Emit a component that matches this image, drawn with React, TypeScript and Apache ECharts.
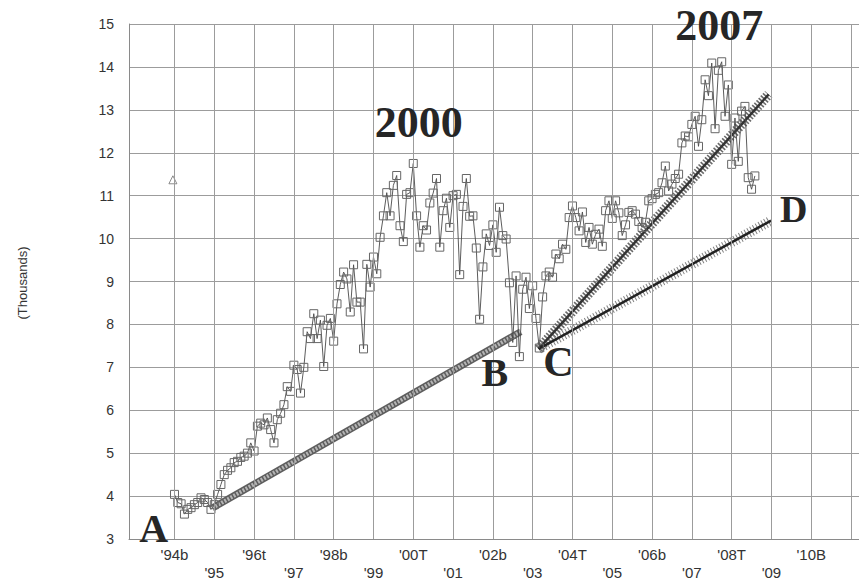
import React, { useEffect, useRef } from "react";
import * as echarts from "echarts";

// ---- Data ----
const startYear = 1994;
const v1994 = [4.04, 3.85, 3.82, 3.58, 3.69, 3.73, 3.8, 3.85, 3.96, 3.92, 3.85, 3.69];
const v1995 = [3.8, 4.04, 4.27, 4.5, 4.6, 4.66, 4.78, 4.81, 4.9, 4.93, 5.0, 5.24];
const v1996 = [5.05, 5.63, 5.7, 5.66, 5.82, 5.55, 5.24, 5.78, 5.93, 6.13, 6.55, 6.44];
const v1997 = [7.05, 6.95, 6.4, 7.0, 7.83, 7.67, 8.25, 7.67, 8.1, 7.02, 7.98, 8.14];
const v1998 = [7.61, 8.48, 8.93, 9.22, 9.06, 8.29, 9.39, 8.52, 8.52, 7.43, 9.4, 8.87];
const v1999 = [9.57, 9.18, 10.03, 10.53, 11.07, 10.53, 11.24, 11.47, 10.3, 9.93, 11.03, 11.07];
const v2000 = [11.75, 10.53, 9.8, 10.3, 10.2, 10.83, 11.06, 11.4, 9.8, 10.65, 10.94, 10.26];
const v2001 = [11.0, 11.03, 9.16, 10.75, 11.4, 10.52, 10.53, 9.78, 8.12, 9.34, 10.11, 9.84];
const v2002 = [10.32, 9.68, 10.73, 10.07, 9.99, 8.97, 7.58, 9.13, 7.25, 8.82, 9.1, 8.37];
const v2003 = [8.9, 8.14, 7.45, 8.64, 9.13, 9.22, 9.1, 9.64, 9.53, 9.87, 9.75, 10.49];
const v2004 = [10.76, 10.49, 10.18, 10.62, 9.91, 10.26, 9.87, 10.1, 10.22, 9.82, 10.65, 10.88];
const v2005 = [10.47, 10.88, 10.6, 10.07, 10.32, 10.61, 10.65, 10.57, 10.4, 10.26, 10.38, 10.88];
const v2006 = [10.93, 11.03, 11.07, 11.3, 11.69, 11.11, 11.27, 11.4, 11.5, 12.23, 12.39, 12.37];
const v2007 = [12.66, 12.85, 12.15, 12.77, 13.7, 13.33, 14.09, 12.56, 13.92, 14.12, 12.85, 13.58];
const v2008 = [11.73, 12.81, 11.8, 12.97, 13.08, 11.42, 11.15, 11.46];

const yearly = [v1994, v1995, v1996, v1997, v1998, v1999, v2000, v2001, v2002, v2003, v2004, v2005, v2006, v2007, v2008];

const strayPoint = [[1993.96, 11.37]];

const trendAB = [[1994.95, 3.72], [2002.7, 7.83]];
const trendCUp = [[2003.15, 7.43], [2008.93, 13.36]];
const trendCD = [[2003.15, 7.43], [2008.99, 10.42]];

const tickYears = [1994, 1995, 1996, 1997, 1998, 1999, 2000, 2001, 2002, 2003, 2004, 2005, 2006, 2007, 2008, 2009, 2010];
const tickLabels = ["'94b", "'95", "'96t", "'97", "'98b", "'99", "'00T", "'01", "'02b", "'03", "'04T", "'05", "'06b", "'07", "'08T", "'09", "'10B"];
const gridYears = [1994, 1995, 1996, 1997, 1998, 1999, 2000, 2001, 2002, 2003, 2004, 2005, 2006, 2007, 2008, 2009, 2010, 2011];

const annotations = [
  { name: "2000", coord: [2000.14, 12.7], size: 44 },
  { name: "2007", coord: [2007.69, 14.96], size: 44 },
  { name: "A", coord: [1993.48, 3.24], size: 40 },
  { name: "B", coord: [2002.05, 6.87], size: 40 },
  { name: "C", coord: [2003.65, 7.12], size: 42 },
  { name: "D", coord: [2009.56, 10.7], size: 38 },
];

export default function App() {
  const ref = useRef<HTMLDivElement>(null);
  useEffect(() => {
    if (!ref.current) return;
    const chart = echarts.init(ref.current, undefined, { renderer: "svg" });
    const mainData: number[][] = [];
    yearly.forEach((arr, yi) => {
      arr.forEach((v, m) => {
        mainData.push([startYear + yi + m / 12, v]);
      });
    });
    const labelMap: Record<number, string> = {};
    tickYears.forEach((y, i) => (labelMap[y] = tickLabels[i]));

    const trend = (data: number[][], z: number, outer: any, inner: any) => [
      { type: "line", data, symbol: "none", showSymbol: false, z, lineStyle: outer, silent: true },
      { type: "line", data, symbol: "none", showSymbol: false, z: z + 0.1, lineStyle: inner, silent: true },
    ];

    chart.setOption({
      animation: false,
      backgroundColor: "#ffffff",
      grid: { left: 129, top: 24, right: 0, bottom: 39.5, containLabel: false },
      xAxis: {
        type: "value",
        min: 1992.857,
        max: 2011.2,
        axisLine: { show: true, lineStyle: { color: "#8a8a8a", width: 1 } },
        axisTick: { show: false },
        splitLine: { show: false },
        axisLabel: {
          customValues: tickYears,
          margin: 6,
          fontSize: 15,
          lineHeight: 18,
          color: "#333",
          fontFamily: "Liberation Sans, Arial, sans-serif",
          formatter: (val: number) => {
            const y = Math.round(val);
            const t = labelMap[y] ?? "";
            return y % 2 === 1 ? "\n" + t : t;
          },
        },
      },
      yAxis: {
        type: "value",
        min: 3,
        max: 15,
        interval: 1,
        axisLine: { show: true, lineStyle: { color: "#8a8a8a", width: 1 } },
        axisTick: { show: false },
        splitLine: { show: true, lineStyle: { color: "#9c9c9c", width: 1 } },
        axisLabel: {
          margin: 15,
          fontSize: 14,
          color: "#333",
          fontFamily: "Liberation Sans, Arial, sans-serif",
        },
      },
      graphic: [
        {
          type: "text",
          x: 22,
          y: 283,
          rotation: Math.PI / 2,
          style: {
            text: "(Thousands)",
            fontSize: 13,
            fontFamily: "Liberation Sans, Arial, sans-serif",
            fill: "#333",
            align: "center",
            verticalAlign: "middle",
          },
        },
      ],
      series: [
        {
          type: "scatter",
          data: [],
          z: 1,
          silent: true,
          markLine: {
            silent: true,
            symbol: ["none", "none"],
            label: { show: false },
            lineStyle: { color: "#9c9c9c", width: 1, type: "solid" },
            data: gridYears.map((y) => ({ xAxis: y })),
          },
        },
        ...trend(trendAB, 3, { color: "#5e5e5e", width: 7, type: "solid" }, { color: "#b5b5b5", width: 4, type: [2, 1.5] }),
        ...trend(trendCUp, 3, { color: "#6a6a6a", width: 10, type: [1.6, 1.6] }, { color: "#333", width: 2.5, type: "solid" }),
        ...trend(trendCD, 3, { color: "#808080", width: 10, type: [1, 2.2] }, { color: "#222", width: 2.5, type: "solid" }),
        {
          type: "line",
          data: mainData,
          z: 4,
          symbol: "rect",
          symbolSize: 8,
          showSymbol: true,
          lineStyle: { color: "#4a4a4a", width: 0.9 },
          itemStyle: { color: "rgba(255,255,255,0)", borderColor: "#666", borderWidth: 1 },
          markPoint: {
            symbol: "rect",
            symbolSize: 1,
            itemStyle: { color: "rgba(0,0,0,0)" },
            data: annotations.map((a) => ({
              name: a.name,
              coord: a.coord,
              label: {
                show: true,
                position: "inside",
                formatter: a.name,
                fontSize: a.size,
                fontWeight: "bold",
                fontFamily: "Liberation Serif, Times New Roman, serif",
                color: "#262626",
              },
            })),
          },
        },
        {
          type: "scatter",
          data: strayPoint,
          z: 4,
          symbol: "triangle",
          symbolSize: 8,
          itemStyle: { color: "rgba(255,255,255,0)", borderColor: "#6e6e6e", borderWidth: 1 },
        },
      ],
    });
    return () => chart.dispose();
  }, []);
  return (
    <div
      ref={ref}
      style={{ position: "fixed", left: 0, top: 0, width: 859, height: 581, background: "#fff" }}
    />
  );
}
